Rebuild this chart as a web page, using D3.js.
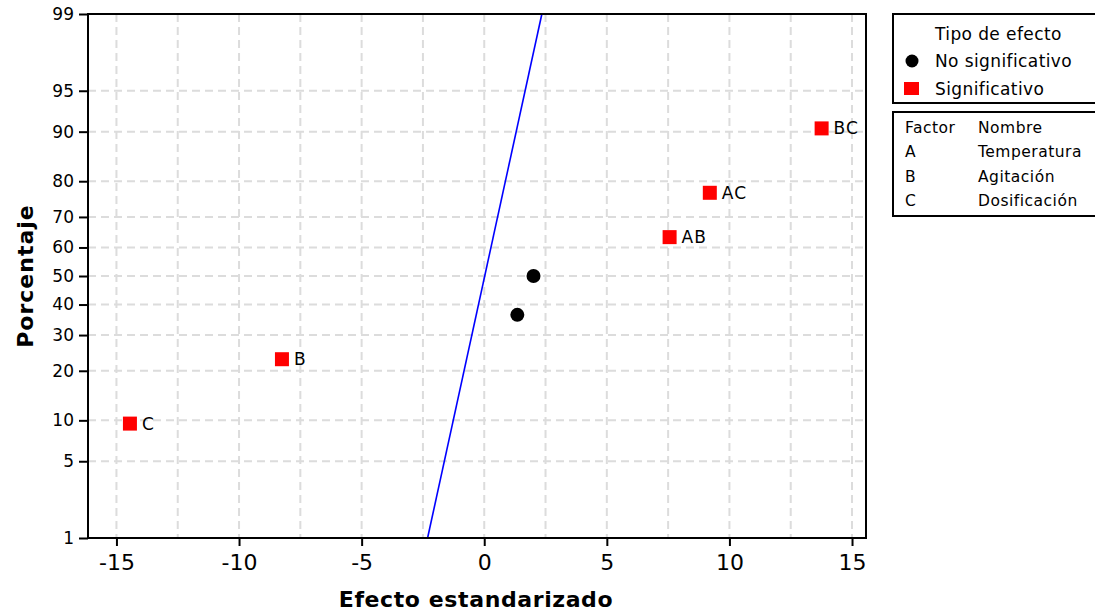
<!DOCTYPE html>
<html>
<head>
<meta charset="utf-8">
<script src="https://cdn.jsdelivr.net/npm/d3@7"></script>
<style>
  body { margin: 0; background: #fff; }
  svg { font-family: "DejaVu Sans", sans-serif; }
</style>
</head>
<body>
<svg id="chart" width="1095" height="614"></svg>
<script>
// standardized effects and their normal percentages
const effectNames = ['C', 'B', '', '', 'AB', 'AC', 'BC'];
const effectValues = [-14.45, -8.25, 1.35, 2.01, 7.56, 9.20, 13.76];
const effectPercents = [9.5, 23.0, 36.5, 50.0, 63.5, 77.0, 90.5];
const effectSignificant = [true, true, false, false, true, true, true];

// reference line end points (effect, percent)
const refEffects = [-2.31, 2.35];
const refPercents = [1, 99];

const xTicks = [-15, -10, -5, 0, 5, 10, 15];
const xGrid = [-15, -12.5, -10, -7.5, -5, -2.5, 0, 2.5, 5, 7.5, 10, 12.5, 15];
const yTicks = [1, 5, 10, 20, 30, 40, 50, 60, 70, 80, 90, 95, 99];

const factorCodes = ['A', 'B', 'C'];
const factorNames = ['Temperatura', 'Agitación', 'Dosificación'];

// inverse normal cdf (Acklam)
function probit(p) {
  const a = [-39.69683028665376, 220.9460984245205, -275.9285104469687, 138.3577518672690, -30.66479806614716, 2.506628277459239];
  const b = [-54.47609879822406, 161.5858368580409, -155.6989798598866, 66.80131188771972, -13.28068155288572];
  const c = [-0.007784894002430293, -0.3223964580411365, -2.400758277161838, -2.549732539343734, 4.374664141464968, 2.938163982698783];
  const d = [0.007784695709041462, 0.3224671290700398, 2.445134137142996, 3.754408661907416];
  const pl = 0.02425;
  let q, r;
  if (p < pl) {
    q = Math.sqrt(-2 * Math.log(p));
    return (((((c[0]*q+c[1])*q+c[2])*q+c[3])*q+c[4])*q+c[5]) / ((((d[0]*q+d[1])*q+d[2])*q+d[3])*q+1);
  } else if (p <= 1 - pl) {
    q = p - 0.5; r = q * q;
    return (((((a[0]*r+a[1])*r+a[2])*r+a[3])*r+a[4])*r+a[5])*q / (((((b[0]*r+b[1])*r+b[2])*r+b[3])*r+b[4])*r+1);
  } else {
    q = Math.sqrt(-2 * Math.log(1 - p));
    return -(((((c[0]*q+c[1])*q+c[2])*q+c[3])*q+c[4])*q+c[5]) / ((((d[0]*q+d[1])*q+d[2])*q+d[3])*q+1);
  }
}

const svg = d3.select('#chart');
const pLeft = 88, pRight = 866, pTop = 14, pBottom = 538;

const x = d3.scaleLinear().domain([-16.16, 15.57]).range([pLeft, pRight]);
const yz = d3.scaleLinear().domain([probit(0.01), probit(0.99)]).range([pBottom, pTop]);
const y = (p) => yz(probit(p / 100));

// grid
const grid = svg.append('g').attr('stroke', '#dcdcdc').attr('stroke-width', 2).attr('stroke-dasharray', '8,5');
xGrid.forEach((v) => {
  grid.append('line').attr('x1', x(v)).attr('x2', x(v)).attr('y1', pTop).attr('y2', pBottom);
});
yTicks.slice(1, -1).forEach((p) => {
  grid.append('line').attr('x1', pLeft).attr('x2', pRight).attr('y1', y(p)).attr('y2', y(p));
});

// reference line
const line = d3.line().x((d) => x(d[0])).y((d) => y(d[1]));
svg.append('path')
  .attr('d', line(refEffects.map((e, i) => [e, refPercents[i]])))
  .attr('fill', 'none').attr('stroke', '#0000ff').attr('stroke-width', 1.6);

// frame
svg.append('rect').attr('x', pLeft).attr('y', pTop).attr('width', pRight - pLeft).attr('height', pBottom - pTop)
  .attr('fill', 'none').attr('stroke', '#000').attr('stroke-width', 2);

// axes
const xAxis = svg.append('g').attr('transform', `translate(0,${pBottom})`)
  .call(d3.axisBottom(x).tickValues(xTicks).tickSize(8).tickSizeOuter(0).tickFormat((d) => String(d)));
xAxis.select('.domain').remove();
xAxis.selectAll('line').attr('stroke-width', 2);
xAxis.selectAll('text').attr('font-size', 22).attr('dy', '0.95em').attr('fill', '#000')
  .attr('font-family', '"DejaVu Sans", sans-serif');

const yAxis = svg.append('g').attr('transform', `translate(${pLeft},0)`)
  .call(d3.axisLeft(yz).tickValues(yTicks.map((p) => probit(p / 100))).tickSize(9).tickSizeOuter(0)
    .tickFormat((d, i) => yTicks[i]));
yAxis.select('.domain').remove();
yAxis.selectAll('line').attr('stroke-width', 2);
yAxis.selectAll('text').attr('font-size', 17).attr('fill', '#000').attr('x', -14)
  .attr('font-family', '"DejaVu Sans", sans-serif');

// axis titles
svg.append('text').attr('x', 476).attr('y', 607).attr('text-anchor', 'middle')
  .attr('font-size', 22).attr('letter-spacing', 0.6).attr('font-weight', 'bold').text('Efecto estandarizado');
svg.append('text').attr('transform', 'translate(33,276) rotate(-90)').attr('text-anchor', 'middle')
  .attr('font-size', 22).attr('letter-spacing', 1).attr('font-weight', 'bold').text('Porcentaje');

// points
const pts = svg.append('g');
effectValues.forEach((v, i) => {
  const cx = x(v), cy = y(effectPercents[i]);
  if (effectSignificant[i]) {
    pts.append('rect').attr('x', cx - 7).attr('y', cy - 7).attr('width', 14).attr('height', 14).attr('fill', '#ff0000');
    pts.append('text').attr('x', cx + 12).attr('y', cy + 6).attr('font-size', 17).attr('letter-spacing', 1)
      .text(effectNames[i]);
  } else {
    pts.append('circle').attr('cx', cx).attr('cy', cy).attr('r', 7).attr('fill', '#000');
  }
});

// legend: effect type
const lg = svg.append('g').attr('font-size', 17).attr('letter-spacing', 0.4);
lg.append('rect').attr('x', 893).attr('y', 14).attr('width', 210).attr('height', 89)
  .attr('fill', '#fff').attr('stroke', '#000').attr('stroke-width', 2);
lg.append('text').attr('x', 935).attr('y', 40).text('Tipo de efecto');
lg.append('circle').attr('cx', 912).attr('cy', 61).attr('r', 6.5).attr('fill', '#000');
lg.append('text').attr('x', 935).attr('y', 67).text('No significativo');
lg.append('rect').attr('x', 904).attr('y', 82).attr('width', 15).attr('height', 13).attr('fill', '#ff0000');
lg.append('text').attr('x', 935).attr('y', 95).text('Significativo');

// legend: factor table
const ft = svg.append('g').attr('font-size', 15.5).attr('letter-spacing', 0.5);
ft.append('rect').attr('x', 893).attr('y', 112).attr('width', 210).attr('height', 104)
  .attr('fill', '#fff').attr('stroke', '#000').attr('stroke-width', 2);
ft.append('text').attr('x', 905).attr('y', 133).text('Factor');
ft.append('text').attr('x', 978).attr('y', 133).text('Nombre');
factorCodes.forEach((c, i) => {
  ft.append('text').attr('x', 905).attr('y', 157 + i * 24.5).text(c);
  ft.append('text').attr('x', 978).attr('y', 157 + i * 24.5).text(factorNames[i]);
});
</script>
</body>
</html>
